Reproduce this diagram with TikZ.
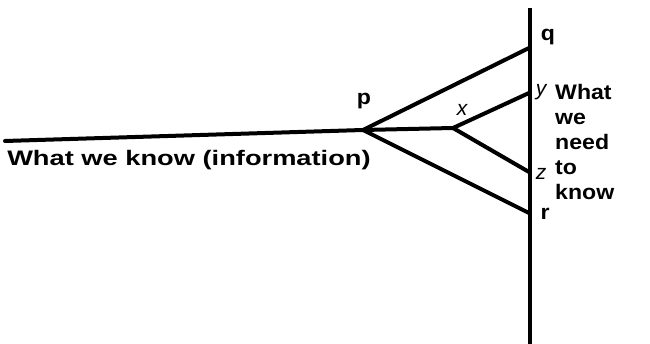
\documentclass[tikz,border=0pt]{standalone}
\usepackage{fontspec}
\setmainfont{Liberation Sans}
\begin{document}
\begin{tikzpicture}[x=1pt,y=-1pt,
  ln/.style={line width=4pt,line cap=round},
  lbl/.style={font=\bfseries\fontsize{21}{25}\selectfont,inner sep=0pt,xscale=1.1},
  var/.style={font=\itshape\fontsize{21}{25}\selectfont,inner sep=0pt}]
\useasboundingbox (0,0) rectangle (650,344);
\coordinate (top) at (530,8);
\coordinate (bot) at (530,344);
\coordinate (left) at (5,141);
\coordinate (p) at (363,130);
\coordinate (x) at (453,128);
\coordinate (q) at (529,48);
\coordinate (y) at (529,93);
\coordinate (z) at (529,172);
\coordinate (r) at (529,213);
\draw[line width=3.5pt] (top) -- (bot);
\draw[ln] (left) -- (p);
\draw[ln] (p) -- (q);
\draw[ln] (p) -- (r);
\draw[ln] (p) -- (x);
\draw[ln] (x) -- (y);
\draw[ln] (x) -- (z);
\node[lbl] (lp) at (364,101) {p};
\node[lbl] (lq) at (548,37) {q};
\node[lbl] (lr) at (545,214) {r};
\node[var] (lx) at (462,110) {x};
\node[var] (ly) at (541,92) {y};
\node[var] (lz) at (541,174) {z};
\node[lbl,xscale=1.18,anchor=west] (info) at (7,160) {What we know (information)};
\node[lbl,anchor=north west,align=left] (need) at (555,84) {What\\we\\need\\to\\know};
\end{tikzpicture}
\end{document}
